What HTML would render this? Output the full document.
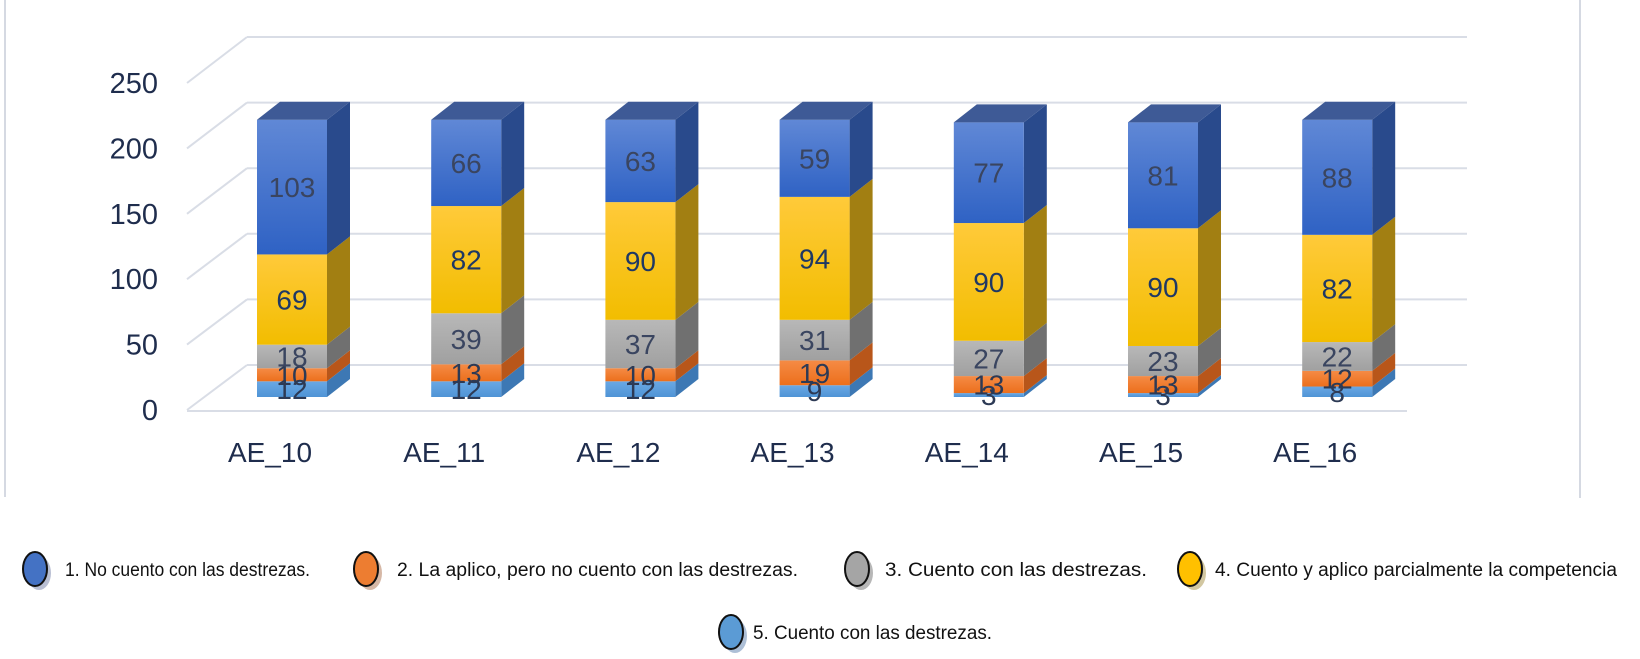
<!DOCTYPE html>
<html><head><meta charset="utf-8"><style>
html,body{margin:0;padding:0;background:#fff;}
svg{display:block;font-family:"Liberation Sans",sans-serif;}
</style></head><body>
<svg id="chart" width="1640" height="659" viewBox="0 0 1640 659">
<defs>
<linearGradient id="gBlue" x1="0" y1="0" x2="0" y2="1"><stop offset="0" stop-color="#6088d6"/><stop offset="1" stop-color="#2f62c4"/></linearGradient>
<linearGradient id="gYellow" x1="0" y1="0" x2="0" y2="1"><stop offset="0" stop-color="#ffca3a"/><stop offset="1" stop-color="#f2bd00"/></linearGradient>
<linearGradient id="gGray" x1="0" y1="0" x2="0" y2="1"><stop offset="0" stop-color="#b8b8b8"/><stop offset="1" stop-color="#a0a0a0"/></linearGradient>
<linearGradient id="gOrange" x1="0" y1="0" x2="0" y2="1"><stop offset="0" stop-color="#f58b45"/><stop offset="1" stop-color="#ec6f1c"/></linearGradient>
<linearGradient id="gLight" x1="0" y1="0" x2="0" y2="1"><stop offset="0" stop-color="#6aa8e4"/><stop offset="1" stop-color="#4f94d6"/></linearGradient>
</defs>
<line x1="5" y1="0" x2="5" y2="497" stroke="#d5d9e2" stroke-width="2"/>
<line x1="1580" y1="0" x2="1580" y2="498" stroke="#d5d9e2" stroke-width="2"/>
<g id="grid"></g>
<g id="bars"></g>
<g id="labels"></g>
<g id="legend" font-size="19" fill="#111">
<g>
<ellipse cx="39" cy="573" rx="12" ry="17" fill="#8a95b5" opacity="0.6"/>
<ellipse cx="35" cy="569" rx="12" ry="17" fill="#4472c4" stroke="#111" stroke-width="2"/>
<text x="65" y="576" textLength="245" lengthAdjust="spacingAndGlyphs">1. No cuento con las destrezas.</text></g>
<g>
<ellipse cx="370" cy="573" rx="12" ry="17" fill="#c49a80" opacity="0.7"/>
<ellipse cx="366" cy="569" rx="12" ry="17" fill="#ed7d31" stroke="#111" stroke-width="2"/>
<text x="397" y="576" textLength="401" lengthAdjust="spacingAndGlyphs">2. La aplico,  pero no cuento con las destrezas.</text></g>
<g>
<ellipse cx="861" cy="573" rx="12" ry="17" fill="#999" opacity="0.7"/>
<ellipse cx="857" cy="569" rx="12" ry="17" fill="#a5a5a5" stroke="#111" stroke-width="2"/>
<text x="885" y="576" textLength="262" lengthAdjust="spacingAndGlyphs">3. Cuento con las destrezas.</text></g>
<g>
<ellipse cx="1194" cy="573" rx="12" ry="17" fill="#c7b98a" opacity="0.8"/>
<ellipse cx="1190" cy="569" rx="12" ry="17" fill="#ffc000" stroke="#111" stroke-width="2"/>
<text x="1215" y="576" textLength="402" lengthAdjust="spacingAndGlyphs">4.  Cuento y aplico parcialmente  la competencia</text></g>
<g>
<ellipse cx="735" cy="636" rx="12" ry="17" fill="#8aa4c4" opacity="0.7"/>
<ellipse cx="731" cy="632" rx="12" ry="17" fill="#5b9bd5" stroke="#111" stroke-width="2"/>
<text x="753" y="639" textLength="239" lengthAdjust="spacingAndGlyphs">5. Cuento con las destrezas.</text></g>
</g>
</svg>
<script>
const categories = ["AE_10","AE_11","AE_12","AE_13","AE_14","AE_15","AE_16"];
const s5 = [12,12,12,9,3,3,8];
const s2 = [10,13,10,19,13,13,12];
const s3 = [18,39,37,31,27,23,22];
const s4 = [69,82,90,94,90,90,82];
const s1 = [103,66,63,59,77,81,88];
const yTicks = [0,50,100,150,200,250];

const NS = "http://www.w3.org/2000/svg";
function mk(tag, attrs, parent){const e=document.createElementNS(NS,tag);for(const k in attrs)e.setAttribute(k,attrs[k]);parent.appendChild(e);return e;}
const grid=document.getElementById('grid'), bars=document.getElementById('bars'), labels=document.getElementById('labels');
const K=1.308;
const yFront=v=>410-v*K, yBack=v=>365-v*1.312, yBar=v=>397-v*K;
const xBar=i=>257+i*174.2;
const BW=70, DX=23, DY=18;

yTicks.forEach(v=>{
  const l1=mk('line',{x1:187,y1:yFront(v),x2:247,y2:yBack(v),stroke:'#d9dde6','stroke-width':2},grid);
  
  
  const l2=mk('line',{x1:247,y1:yBack(v),x2:1467,y2:yBack(v),stroke:'#d9dde6','stroke-width':2},grid);
  
  
  const t=mk('text',{x:158,y:yFront(v)+10,'text-anchor':'end','font-size':29,fill:'#1f2d4d'},grid);
  t.textContent=v;
  
  
});
const fl=mk('line',{x1:187,y1:411,x2:1407,y2:411,stroke:'#d9dde6','stroke-width':2},grid);



const series=[
 {d:s5,f:'url(#gLight)',side:'#3d78b4',top:'#4a86c4',lc:'#2d3a55',n:'series-5'},
 {d:s2,f:'url(#gOrange)',side:'#b8561a',top:'#c8652a',lc:'#2d3a55',n:'series-2'},
 {d:s3,f:'url(#gGray)',side:'#707070',top:'#8a8a8a',lc:'#3a4560',n:'series-3'},
 {d:s4,f:'url(#gYellow)',side:'#a27f12',top:'#c9a020',lc:'#1f3864',n:'series-4'},
 {d:s1,f:'url(#gBlue)',side:'#294a8c',top:'#3e5a96',lc:'#3a4560',n:'series-1'}
];
categories.forEach((c,i)=>{
  let cum=0; const x=xBar(i);
  const g=mk('g',{},bars);
  
  
  series.forEach((s,si)=>{
    const v=s.d[i], y0=yBar(cum), y1=yBar(cum+v);
    const side=mk('polygon',{points:`${x+BW},${y0} ${x+BW+DX},${y0-DY} ${x+BW+DX},${y1-DY} ${x+BW},${y1}`,fill:s.side},g);
    
    
    const r=mk('rect',{x:x,y:y1,width:BW,height:y0-y1,fill:s.f},g);
    
    
    cum+=v;
    if(si===series.length-1){
      const top=mk('polygon',{points:`${x},${y1} ${x+DX},${y1-DY} ${x+BW+DX},${y1-DY} ${x+BW},${y1}`,fill:s.top},g);
      
      
    }
    const t=mk('text',{x:x+BW/2,y:(y0+y1)/2+10,'text-anchor':'middle','font-size':28,fill:s.lc},labels);
    t.textContent=v;
    
    
  });
  const cl=mk('text',{x:x+BW/2-22,y:462,'text-anchor':'middle','font-size':28,fill:'#1f2d4d'},labels);
  cl.textContent=c;
  
  
});
</script>
</body></html>
